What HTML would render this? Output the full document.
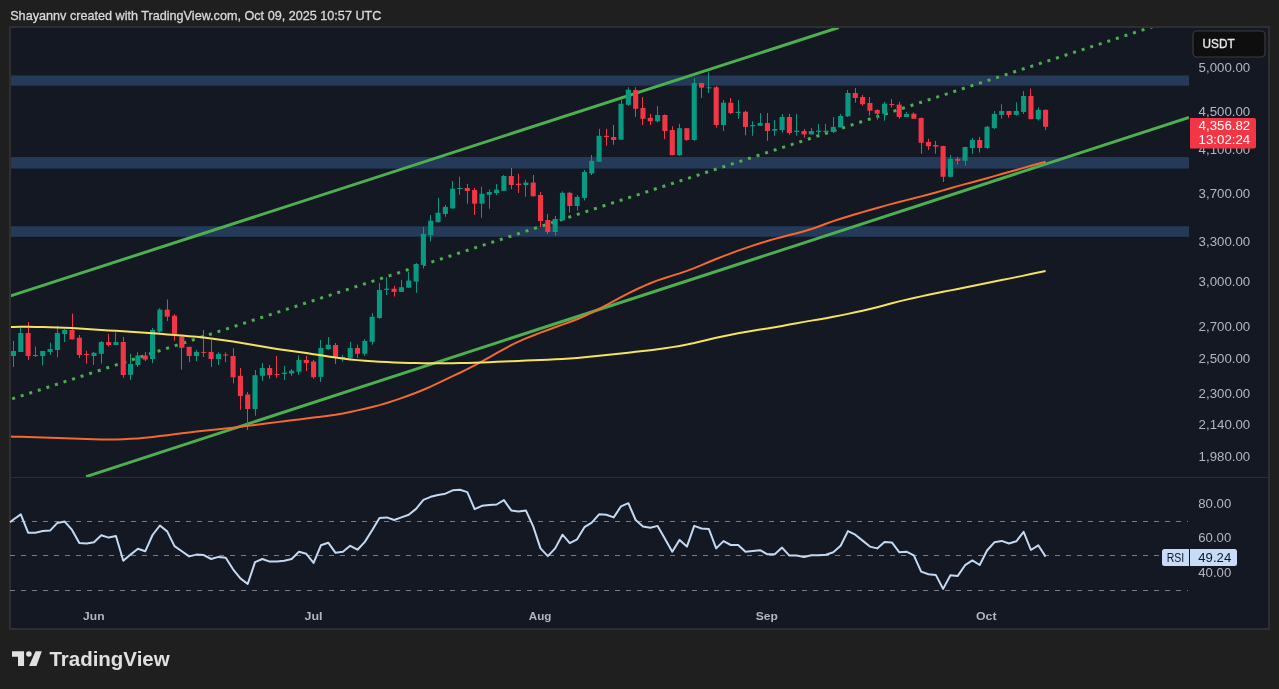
<!DOCTYPE html>
<html><head><meta charset="utf-8"><title>ETHUSDT chart</title>
<style>html,body{margin:0;padding:0;background:#1f1f1f;width:1279px;height:689px;overflow:hidden;font-family:"Liberation Sans", sans-serif;}svg{display:block;will-change:transform}</style>
</head><body><svg width="1279" height="689" viewBox="0 0 1279 689" font-family='"Liberation Sans", sans-serif'><rect x="0" y="0" width="1279" height="689" fill="#1f1f1f"/><rect x="9" y="26" width="1261" height="604" fill="#2f2f32"/><rect x="11" y="28" width="1257" height="600" fill="#141823"/><defs><clipPath id="cp"><rect x="11" y="28" width="1178" height="449"/></clipPath><clipPath id="cr"><rect x="11" y="478" width="1178" height="120"/></clipPath></defs><rect x="11" y="75.4" width="1178" height="10.3" fill="#253959"/><rect x="11" y="157" width="1178" height="11.6" fill="#253959"/><rect x="11" y="226.2" width="1178" height="10.6" fill="#253959"/><g clip-path="url(#cp)"><line x1="10" y1="296.1" x2="838.7" y2="27.5" stroke="#4caf50" stroke-width="3"/><line x1="86.1" y1="476.6" x2="1189" y2="117.4" stroke="#4caf50" stroke-width="3"/><line x1="5" y1="401.21" x2="1160" y2="24.33" stroke="#4caf50" stroke-width="3" stroke-dasharray="3 6" stroke-dashoffset="1.45"/><rect x="13" y="341" width="1" height="26" fill="#089981"/><rect x="10.92" y="351" width="5.1" height="5" fill="#089981"/><rect x="20" y="328" width="1" height="24" fill="#089981"/><rect x="18.24" y="333" width="5.1" height="19" fill="#089981"/><rect x="28" y="322" width="1" height="38" fill="#f23645"/><rect x="25.56" y="333" width="5.1" height="23" fill="#f23645"/><rect x="35" y="346.6" width="1" height="10.4" fill="#089981"/><rect x="32.88" y="355" width="5.1" height="1" fill="#089981"/><rect x="42" y="351" width="1" height="14.5" fill="#089981"/><rect x="40.2" y="351" width="5.1" height="5" fill="#089981"/><rect x="50" y="342.8" width="1" height="12.2" fill="#089981"/><rect x="47.52" y="349" width="5.1" height="3" fill="#089981"/><rect x="57" y="325.8" width="1" height="31.7" fill="#089981"/><rect x="54.84" y="333" width="5.1" height="17" fill="#089981"/><rect x="64" y="329" width="1" height="13" fill="#089981"/><rect x="62.16" y="330" width="5.1" height="4" fill="#089981"/><rect x="72" y="313.6" width="1" height="25.8" fill="#f23645"/><rect x="69.48" y="330" width="5.1" height="9.4" fill="#f23645"/><rect x="79" y="335" width="1" height="23" fill="#f23645"/><rect x="76.8" y="337.7" width="5.1" height="17.3" fill="#f23645"/><rect x="86" y="350.8" width="1" height="12.8" fill="#f23645"/><rect x="84.12" y="354" width="5.1" height="1" fill="#f23645"/><rect x="93" y="352" width="1" height="13" fill="#089981"/><rect x="91.44" y="352.8" width="5.1" height="3.2" fill="#089981"/><rect x="101" y="341" width="1" height="22.6" fill="#089981"/><rect x="98.76" y="342" width="5.1" height="11.8" fill="#089981"/><rect x="108" y="334" width="1" height="12.6" fill="#f23645"/><rect x="106.08" y="342" width="5.1" height="3" fill="#f23645"/><rect x="115" y="332.5" width="1" height="12.5" fill="#089981"/><rect x="113.4" y="342" width="5.1" height="3" fill="#089981"/><rect x="123" y="337" width="1" height="40.7" fill="#f23645"/><rect x="120.72" y="342" width="5.1" height="33" fill="#f23645"/><rect x="130" y="353.9" width="1" height="26.1" fill="#089981"/><rect x="128.04" y="364" width="5.1" height="10.8" fill="#089981"/><rect x="137" y="352.3" width="1" height="14.7" fill="#089981"/><rect x="135.36" y="355.5" width="5.1" height="9.5" fill="#089981"/><rect x="145" y="351.9" width="1" height="9.1" fill="#f23645"/><rect x="142.68" y="355.5" width="5.1" height="4.1" fill="#f23645"/><rect x="152" y="327.9" width="1" height="35.1" fill="#089981"/><rect x="150" y="330" width="5.1" height="29" fill="#089981"/><rect x="159" y="308.2" width="1" height="24.4" fill="#089981"/><rect x="157.32" y="309.6" width="5.1" height="22" fill="#089981"/><rect x="167" y="299.5" width="1" height="21.5" fill="#f23645"/><rect x="164.64" y="309.6" width="5.1" height="7.1" fill="#f23645"/><rect x="174" y="314.3" width="1" height="26.4" fill="#f23645"/><rect x="171.96" y="315.7" width="5.1" height="19.9" fill="#f23645"/><rect x="181" y="335.6" width="1" height="34.2" fill="#f23645"/><rect x="179.28" y="336.6" width="5.1" height="11.2" fill="#f23645"/><rect x="189" y="346.8" width="1" height="15.2" fill="#f23645"/><rect x="186.6" y="346.8" width="5.1" height="9.2" fill="#f23645"/><rect x="196" y="349.8" width="1" height="11.2" fill="#089981"/><rect x="193.92" y="351.9" width="5.1" height="4.1" fill="#089981"/><rect x="203" y="330" width="1" height="27" fill="#f23645"/><rect x="201.24" y="351.9" width="5.1" height="1" fill="#f23645"/><rect x="211" y="340" width="1" height="27" fill="#f23645"/><rect x="208.56" y="351.9" width="5.1" height="7.1" fill="#f23645"/><rect x="218" y="352.3" width="1" height="12.7" fill="#089981"/><rect x="215.88" y="353.9" width="5.1" height="5.1" fill="#089981"/><rect x="225" y="352.3" width="1" height="9.7" fill="#f23645"/><rect x="223.2" y="354.5" width="5.1" height="1" fill="#f23645"/><rect x="233" y="348.2" width="1" height="35.2" fill="#f23645"/><rect x="230.52" y="356" width="5.1" height="21.3" fill="#f23645"/><rect x="240" y="368" width="1" height="41.8" fill="#f23645"/><rect x="237.84" y="375.8" width="5.1" height="20.2" fill="#f23645"/><rect x="247" y="392" width="1" height="38" fill="#f23645"/><rect x="245.16" y="394.5" width="5.1" height="14.5" fill="#f23645"/><rect x="255" y="370" width="1" height="45.8" fill="#089981"/><rect x="252.48" y="375.2" width="5.1" height="33.8" fill="#089981"/><rect x="262" y="363" width="1" height="17.8" fill="#089981"/><rect x="259.8" y="368" width="5.1" height="7.8" fill="#089981"/><rect x="269" y="365" width="1" height="13.8" fill="#f23645"/><rect x="267.12" y="368" width="5.1" height="7.2" fill="#f23645"/><rect x="276" y="355.9" width="1" height="21.9" fill="#f23645"/><rect x="274.44" y="374" width="5.1" height="1" fill="#f23645"/><rect x="284" y="366" width="1" height="13.8" fill="#089981"/><rect x="281.76" y="372.7" width="5.1" height="1.3" fill="#089981"/><rect x="291" y="369" width="1" height="6.8" fill="#089981"/><rect x="289.08" y="370.7" width="5.1" height="2.8" fill="#089981"/><rect x="298" y="355.3" width="1" height="19.5" fill="#089981"/><rect x="296.4" y="360" width="5.1" height="11.7" fill="#089981"/><rect x="306" y="355.9" width="1" height="15.1" fill="#f23645"/><rect x="303.72" y="360" width="5.1" height="3" fill="#f23645"/><rect x="313" y="360" width="1" height="18.8" fill="#f23645"/><rect x="311.04" y="361.5" width="5.1" height="15.7" fill="#f23645"/><rect x="320" y="340" width="1" height="41.9" fill="#089981"/><rect x="318.36" y="348" width="5.1" height="28.8" fill="#089981"/><rect x="328" y="337" width="1" height="12.8" fill="#089981"/><rect x="325.68" y="344.7" width="5.1" height="4.5" fill="#089981"/><rect x="335" y="343" width="1" height="21" fill="#f23645"/><rect x="333" y="345" width="5.1" height="11.9" fill="#f23645"/><rect x="342" y="354.8" width="1" height="6.7" fill="#089981"/><rect x="340.32" y="356.9" width="5.1" height="2.4" fill="#089981"/><rect x="350" y="342" width="1" height="16.9" fill="#089981"/><rect x="347.64" y="348" width="5.1" height="9.9" fill="#089981"/><rect x="357" y="344.7" width="1" height="13.2" fill="#f23645"/><rect x="354.96" y="348" width="5.1" height="5.8" fill="#f23645"/><rect x="364" y="339.2" width="1" height="16.7" fill="#089981"/><rect x="362.28" y="341" width="5.1" height="12.8" fill="#089981"/><rect x="372" y="313" width="1" height="31.7" fill="#089981"/><rect x="369.6" y="316.8" width="5.1" height="25.1" fill="#089981"/><rect x="379" y="283" width="1" height="35.9" fill="#089981"/><rect x="376.92" y="290" width="5.1" height="28" fill="#089981"/><rect x="386" y="277.2" width="1" height="17.8" fill="#089981"/><rect x="384.24" y="288.7" width="5.1" height="1.3" fill="#089981"/><rect x="394" y="285.8" width="1" height="10.8" fill="#f23645"/><rect x="391.56" y="288.7" width="5.1" height="3.2" fill="#f23645"/><rect x="401" y="280" width="1" height="11.9" fill="#089981"/><rect x="398.88" y="287.2" width="5.1" height="4.7" fill="#089981"/><rect x="408" y="272" width="1" height="15.7" fill="#089981"/><rect x="406.2" y="280.6" width="5.1" height="7.1" fill="#089981"/><rect x="416" y="263" width="1" height="29.8" fill="#089981"/><rect x="413.52" y="264" width="5.1" height="17.5" fill="#089981"/><rect x="423" y="226.9" width="1" height="41.5" fill="#089981"/><rect x="420.84" y="233.9" width="5.1" height="31.1" fill="#089981"/><rect x="430" y="215" width="1" height="26.4" fill="#089981"/><rect x="428.16" y="220.7" width="5.1" height="14.5" fill="#089981"/><rect x="438" y="198" width="1" height="24.5" fill="#089981"/><rect x="435.48" y="212.7" width="5.1" height="9.5" fill="#089981"/><rect x="445" y="205" width="1" height="11.9" fill="#089981"/><rect x="442.8" y="206.9" width="5.1" height="7.1" fill="#089981"/><rect x="452" y="181" width="1" height="27.8" fill="#089981"/><rect x="450.12" y="188.6" width="5.1" height="19.8" fill="#089981"/><rect x="459" y="176.7" width="1" height="18.1" fill="#089981"/><rect x="457.44" y="188" width="5.1" height="1" fill="#089981"/><rect x="467" y="183.9" width="1" height="19.8" fill="#f23645"/><rect x="464.76" y="188" width="5.1" height="3" fill="#f23645"/><rect x="474" y="188" width="1" height="27" fill="#f23645"/><rect x="472.08" y="190" width="5.1" height="13.7" fill="#f23645"/><rect x="481" y="186.7" width="1" height="31.1" fill="#089981"/><rect x="479.4" y="193.7" width="5.1" height="10" fill="#089981"/><rect x="489" y="189.5" width="1" height="19.3" fill="#089981"/><rect x="486.72" y="192" width="5.1" height="2.8" fill="#089981"/><rect x="496" y="184" width="1" height="11" fill="#089981"/><rect x="494.04" y="189.6" width="5.1" height="3.4" fill="#089981"/><rect x="503" y="175" width="1" height="15.8" fill="#089981"/><rect x="501.36" y="176" width="5.1" height="14.8" fill="#089981"/><rect x="511" y="168" width="1" height="21.2" fill="#f23645"/><rect x="508.68" y="176" width="5.1" height="9" fill="#f23645"/><rect x="518" y="173.6" width="1" height="19.4" fill="#f23645"/><rect x="516" y="183.6" width="5.1" height="1.4" fill="#f23645"/><rect x="525" y="179.8" width="1" height="17" fill="#089981"/><rect x="523.32" y="182.6" width="5.1" height="2.4" fill="#089981"/><rect x="533" y="175" width="1" height="21.8" fill="#f23645"/><rect x="530.64" y="182.6" width="5.1" height="13.6" fill="#f23645"/><rect x="540" y="192" width="1" height="35" fill="#f23645"/><rect x="537.96" y="195" width="5.1" height="26" fill="#f23645"/><rect x="547" y="214" width="1" height="20" fill="#f23645"/><rect x="545.28" y="220" width="5.1" height="12" fill="#f23645"/><rect x="555" y="216" width="1" height="19.8" fill="#089981"/><rect x="552.6" y="218.9" width="5.1" height="13.1" fill="#089981"/><rect x="562" y="191.3" width="1" height="29.5" fill="#089981"/><rect x="559.92" y="192.8" width="5.1" height="27.5" fill="#089981"/><rect x="569" y="191.8" width="1" height="20.8" fill="#f23645"/><rect x="567.24" y="192.8" width="5.1" height="13.2" fill="#f23645"/><rect x="577" y="194.9" width="1" height="15.7" fill="#089981"/><rect x="574.56" y="196.9" width="5.1" height="9.1" fill="#089981"/><rect x="584" y="170" width="1" height="30.5" fill="#089981"/><rect x="581.88" y="172" width="5.1" height="25.9" fill="#089981"/><rect x="591" y="155" width="1" height="20" fill="#089981"/><rect x="589.2" y="160.8" width="5.1" height="12.7" fill="#089981"/><rect x="599" y="128.8" width="1" height="33" fill="#089981"/><rect x="596.52" y="135.8" width="5.1" height="26" fill="#089981"/><rect x="606" y="128.8" width="1" height="17" fill="#f23645"/><rect x="603.84" y="135.8" width="5.1" height="1.2" fill="#f23645"/><rect x="613" y="125" width="1" height="19.8" fill="#f23645"/><rect x="611.16" y="137" width="5.1" height="3" fill="#f23645"/><rect x="621" y="99.5" width="1" height="40.2" fill="#089981"/><rect x="618.48" y="103.7" width="5.1" height="36" fill="#089981"/><rect x="628" y="87.3" width="1" height="18.7" fill="#089981"/><rect x="625.8" y="89.7" width="5.1" height="15.1" fill="#089981"/><rect x="635" y="87.3" width="1" height="29.6" fill="#f23645"/><rect x="633.12" y="90" width="5.1" height="18.8" fill="#f23645"/><rect x="642" y="97" width="1" height="28" fill="#f23645"/><rect x="640.44" y="108" width="5.1" height="10.8" fill="#f23645"/><rect x="650" y="114" width="1" height="11" fill="#f23645"/><rect x="647.76" y="117.8" width="5.1" height="3.4" fill="#f23645"/><rect x="657" y="106" width="1" height="16.5" fill="#089981"/><rect x="655.08" y="115" width="5.1" height="6.2" fill="#089981"/><rect x="664" y="114.4" width="1" height="24.6" fill="#f23645"/><rect x="662.4" y="115" width="5.1" height="16" fill="#f23645"/><rect x="672" y="126.3" width="1" height="28.9" fill="#f23645"/><rect x="669.72" y="130" width="5.1" height="25.2" fill="#f23645"/><rect x="679" y="123.9" width="1" height="32.1" fill="#089981"/><rect x="677.04" y="128.2" width="5.1" height="27" fill="#089981"/><rect x="686" y="128.2" width="1" height="12.6" fill="#f23645"/><rect x="684.36" y="128.2" width="5.1" height="11.8" fill="#f23645"/><rect x="694" y="78.2" width="1" height="62.6" fill="#089981"/><rect x="691.68" y="83" width="5.1" height="57" fill="#089981"/><rect x="701" y="83" width="1" height="15" fill="#f23645"/><rect x="699" y="83" width="5.1" height="4.6" fill="#f23645"/><rect x="708" y="72.5" width="1" height="20.5" fill="#089981"/><rect x="706.32" y="87.3" width="5.1" height="1" fill="#089981"/><rect x="716" y="86" width="1" height="41.6" fill="#f23645"/><rect x="713.64" y="87.3" width="5.1" height="37.7" fill="#f23645"/><rect x="723" y="100" width="1" height="31" fill="#089981"/><rect x="720.96" y="102.7" width="5.1" height="22.3" fill="#089981"/><rect x="730" y="98" width="1" height="16" fill="#f23645"/><rect x="728.28" y="102.7" width="5.1" height="10.3" fill="#f23645"/><rect x="738" y="100" width="1" height="18.8" fill="#089981"/><rect x="735.6" y="111.8" width="5.1" height="1.2" fill="#089981"/><rect x="745" y="110.7" width="1" height="24.5" fill="#f23645"/><rect x="742.92" y="111.8" width="5.1" height="15.1" fill="#f23645"/><rect x="752" y="121.2" width="1" height="14.6" fill="#089981"/><rect x="750.24" y="125" width="5.1" height="1.3" fill="#089981"/><rect x="760" y="113" width="1" height="12.8" fill="#089981"/><rect x="757.56" y="123" width="5.1" height="2.8" fill="#089981"/><rect x="767" y="113" width="1" height="27.8" fill="#f23645"/><rect x="764.88" y="123" width="5.1" height="8" fill="#f23645"/><rect x="774" y="120" width="1" height="15.8" fill="#089981"/><rect x="772.2" y="129" width="5.1" height="1.7" fill="#089981"/><rect x="782" y="114" width="1" height="18.5" fill="#089981"/><rect x="779.52" y="117" width="5.1" height="13" fill="#089981"/><rect x="789" y="114" width="1" height="20.8" fill="#f23645"/><rect x="786.84" y="117" width="5.1" height="16" fill="#f23645"/><rect x="796" y="114" width="1" height="21.8" fill="#089981"/><rect x="794.16" y="130.7" width="5.1" height="1.3" fill="#089981"/><rect x="804" y="129" width="1" height="8.6" fill="#f23645"/><rect x="801.48" y="131" width="5.1" height="3.4" fill="#f23645"/><rect x="811" y="128" width="1" height="6.4" fill="#089981"/><rect x="808.8" y="131" width="5.1" height="3.4" fill="#089981"/><rect x="818" y="123.9" width="1" height="10.9" fill="#089981"/><rect x="816.12" y="130.7" width="5.1" height="1.3" fill="#089981"/><rect x="825" y="123.9" width="1" height="9.1" fill="#089981"/><rect x="823.44" y="130.7" width="5.1" height="1.3" fill="#089981"/><rect x="833" y="117" width="1" height="16" fill="#089981"/><rect x="830.76" y="126.9" width="5.1" height="5.1" fill="#089981"/><rect x="840" y="114" width="1" height="13.6" fill="#089981"/><rect x="838.08" y="116" width="5.1" height="11.3" fill="#089981"/><rect x="847" y="90" width="1" height="27" fill="#089981"/><rect x="845.4" y="93" width="5.1" height="23.3" fill="#089981"/><rect x="855" y="88" width="1" height="14.7" fill="#f23645"/><rect x="852.72" y="93" width="5.1" height="5" fill="#f23645"/><rect x="862" y="94.8" width="1" height="10.8" fill="#f23645"/><rect x="860.04" y="97" width="5.1" height="7.2" fill="#f23645"/><rect x="869" y="97" width="1" height="18.6" fill="#f23645"/><rect x="867.36" y="103" width="5.1" height="7.7" fill="#f23645"/><rect x="877" y="109.3" width="1" height="10.4" fill="#f23645"/><rect x="874.68" y="110" width="5.1" height="3.7" fill="#f23645"/><rect x="884" y="101.8" width="1" height="18.9" fill="#089981"/><rect x="882" y="103.7" width="5.1" height="10" fill="#089981"/><rect x="891" y="99" width="1" height="8.5" fill="#f23645"/><rect x="889.32" y="104" width="5.1" height="1" fill="#f23645"/><rect x="899" y="101.8" width="1" height="17" fill="#f23645"/><rect x="896.64" y="104.6" width="5.1" height="12.4" fill="#f23645"/><rect x="906" y="112" width="1" height="5" fill="#089981"/><rect x="903.96" y="114" width="5.1" height="3" fill="#089981"/><rect x="913" y="112.5" width="1" height="6.3" fill="#f23645"/><rect x="911.28" y="113.7" width="5.1" height="5.1" fill="#f23645"/><rect x="921" y="117.4" width="1" height="36.4" fill="#f23645"/><rect x="918.6" y="118" width="5.1" height="24.8" fill="#f23645"/><rect x="928" y="138.7" width="1" height="11.3" fill="#f23645"/><rect x="925.92" y="141.9" width="5.1" height="4.3" fill="#f23645"/><rect x="935" y="141" width="1" height="12.8" fill="#f23645"/><rect x="933.24" y="145" width="5.1" height="1.6" fill="#f23645"/><rect x="943" y="145.7" width="1" height="36.3" fill="#f23645"/><rect x="940.56" y="146" width="5.1" height="30.8" fill="#f23645"/><rect x="950" y="155" width="1" height="21.8" fill="#089981"/><rect x="947.88" y="158.9" width="5.1" height="17.9" fill="#089981"/><rect x="957" y="157" width="1" height="7.5" fill="#f23645"/><rect x="955.2" y="158.9" width="5.1" height="1.9" fill="#f23645"/><rect x="965" y="146.6" width="1" height="18.9" fill="#089981"/><rect x="962.52" y="147" width="5.1" height="13.8" fill="#089981"/><rect x="972" y="138" width="1" height="15.8" fill="#089981"/><rect x="969.84" y="140" width="5.1" height="8" fill="#089981"/><rect x="979" y="136.8" width="1" height="15.8" fill="#f23645"/><rect x="977.16" y="140" width="5.1" height="8" fill="#f23645"/><rect x="987" y="125.8" width="1" height="23.1" fill="#089981"/><rect x="984.48" y="126.8" width="5.1" height="21.2" fill="#089981"/><rect x="994" y="111" width="1" height="18" fill="#089981"/><rect x="991.8" y="114" width="5.1" height="14.1" fill="#089981"/><rect x="1001" y="104.2" width="1" height="14.5" fill="#089981"/><rect x="999.12" y="111" width="5.1" height="3.9" fill="#089981"/><rect x="1008" y="111" width="1" height="6.7" fill="#f23645"/><rect x="1006.44" y="111" width="5.1" height="3.9" fill="#f23645"/><rect x="1016" y="102.3" width="1" height="13.5" fill="#089981"/><rect x="1013.76" y="111" width="5.1" height="3.9" fill="#089981"/><rect x="1023" y="91" width="1" height="23" fill="#089981"/><rect x="1021.08" y="96" width="5.1" height="16" fill="#089981"/><rect x="1030" y="88.5" width="1" height="30.7" fill="#f23645"/><rect x="1028.4" y="96" width="5.1" height="23.2" fill="#f23645"/><rect x="1038" y="107.4" width="1" height="13.2" fill="#089981"/><rect x="1035.72" y="109.8" width="5.1" height="9.4" fill="#089981"/><rect x="1045" y="109.8" width="1" height="20.2" fill="#f23645"/><rect x="1043.04" y="109.8" width="5.1" height="17" fill="#f23645"/><polyline points="10,436.51 13.47,436.67 20.79,436.86 28.11,437.09 35.43,437.32 42.75,437.56 50.07,437.8 57.39,438.05 64.71,438.31 72.03,438.56 79.35,438.82 86.67,439.05 93.99,439.24 101.31,439.38 108.63,439.45 115.95,439.41 123.27,439.22 130.59,438.87 137.91,438.38 145.23,437.76 152.55,436.99 159.87,436.11 167.19,435.17 174.51,434.25 181.83,433.33 189.15,432.45 196.47,431.6 203.79,430.82 211.11,430.07 218.43,429.32 225.75,428.52 233.07,427.66 240.39,426.76 247.71,425.84 255.03,424.91 262.35,423.98 269.67,423.05 276.99,422.13 284.31,421.21 291.63,420.3 298.95,419.39 306.27,418.48 313.59,417.57 320.91,416.67 328.23,415.73 335.55,414.67 342.87,413.42 350.19,411.96 357.51,410.36 364.83,408.71 372.15,406.99 379.47,405.1 386.79,402.96 394.11,400.62 401.43,398.13 408.75,395.52 416.07,392.76 423.39,389.77 430.71,386.56 438.03,383.15 445.35,379.65 452.67,376.18 459.99,372.73 467.31,369.19 474.63,365.42 481.95,361.43 489.27,357.27 496.59,353.11 503.91,349.04 511.23,345.18 518.55,341.61 525.87,338.39 533.19,335.46 540.51,332.68 547.83,329.95 555.15,327.25 562.47,324.63 569.79,322.03 577.11,319.26 584.43,316.16 591.75,312.69 599.07,308.96 606.39,305.08 613.71,301.13 621.03,297.19 628.35,293.37 635.67,289.73 642.99,286.33 650.31,283.21 657.63,280.42 664.95,277.95 672.27,275.64 679.59,273.35 686.91,270.87 694.23,268.13 701.55,265.14 708.87,262.04 716.19,258.99 723.51,256.09 730.83,253.31 738.15,250.64 745.47,248.07 752.79,245.62 760.11,243.26 767.43,241.01 774.75,238.88 782.07,236.93 789.39,235.09 796.71,233.29 804.03,231.33 811.35,229.08 818.67,226.47 825.99,223.74 833.31,221.1 840.63,218.7 847.95,216.44 855.27,214.25 862.59,212.11 869.91,210 877.23,207.92 884.55,205.89 891.87,203.9 899.19,201.99 906.51,200.12 913.83,198.27 921.15,196.4 928.47,194.47 935.79,192.44 943.11,190.34 950.43,188.23 957.75,186.16 965.07,184.14 972.39,182.16 979.71,180.18 987.03,178.17 994.35,176.14 1001.67,174.08 1008.99,172.02 1016.31,169.95 1023.63,167.87 1030.95,165.81 1038.27,163.79 1045.59,161.82" fill="none" stroke="#f26a2e" stroke-width="2" stroke-linejoin="round"/><polyline points="10,326.99 13.47,326.91 20.79,326.85 28.11,326.83 35.43,326.89 42.75,327.01 50.07,327.18 57.39,327.38 64.71,327.65 72.03,328.01 79.35,328.49 86.67,329.03 93.99,329.55 101.31,330.01 108.63,330.42 115.95,330.82 123.27,331.24 130.59,331.7 137.91,332.18 145.23,332.69 152.55,333.23 159.87,333.8 167.19,334.38 174.51,334.96 181.83,335.53 189.15,336.15 196.47,336.83 203.79,337.61 211.11,338.47 218.43,339.42 225.75,340.45 233.07,341.56 240.39,342.74 247.71,343.96 255.03,345.21 262.35,346.48 269.67,347.73 276.99,348.9 284.31,349.98 291.63,350.99 298.95,352.01 306.27,353.08 313.59,354.2 320.91,355.36 328.23,356.5 335.55,357.59 342.87,358.55 350.19,359.39 357.51,360.13 364.83,360.77 372.15,361.31 379.47,361.76 386.79,362.12 394.11,362.44 401.43,362.7 408.75,362.91 416.07,363.07 423.39,363.2 430.71,363.27 438.03,363.3 445.35,363.28 452.67,363.22 459.99,363.1 467.31,362.93 474.63,362.73 481.95,362.49 489.27,362.2 496.59,361.87 503.91,361.54 511.23,361.21 518.55,360.89 525.87,360.6 533.19,360.33 540.51,360.05 547.83,359.73 555.15,359.35 562.47,358.93 569.79,358.45 577.11,357.9 584.43,357.26 591.75,356.56 599.07,355.82 606.39,355.05 613.71,354.27 621.03,353.47 628.35,352.66 635.67,351.84 642.99,351.01 650.31,350.16 657.63,349.25 664.95,348.23 672.27,347.13 679.59,345.93 686.91,344.59 694.23,343.06 701.55,341.34 708.87,339.55 716.19,337.81 723.51,336.19 730.83,334.67 738.15,333.25 745.47,331.91 752.79,330.69 760.11,329.55 767.43,328.41 774.75,327.21 782.07,325.91 789.39,324.54 796.71,323.17 804.03,321.86 811.35,320.63 818.67,319.42 825.99,318.18 833.31,316.84 840.63,315.39 847.95,313.87 855.27,312.32 862.59,310.72 869.91,309.02 877.23,307.16 884.55,305.21 891.87,303.25 899.19,301.38 906.51,299.64 913.83,297.98 921.15,296.38 928.47,294.83 935.79,293.32 943.11,291.85 950.43,290.39 957.75,288.92 965.07,287.44 972.39,285.97 979.71,284.49 987.03,283.02 994.35,281.56 1001.67,280.09 1008.99,278.62 1016.31,277.12 1023.63,275.61 1030.95,274.09 1038.27,272.57 1045.59,271.04" fill="none" stroke="#f5e25e" stroke-width="2" stroke-linejoin="round"/></g><rect x="11" y="477" width="1257" height="1" fill="#2a2e39"/><line x1="10" y1="521.5" x2="1188" y2="521.5" stroke="#787b86" stroke-width="1" stroke-dasharray="5 6"/><line x1="10" y1="555.5" x2="1188" y2="555.5" stroke="#787b86" stroke-width="1" stroke-dasharray="5 6"/><line x1="10" y1="590.5" x2="1188" y2="590.5" stroke="#787b86" stroke-width="1" stroke-dasharray="5 6"/><polyline points="10,522.2 13.47,519.5 20.79,514.4 28.11,532.7 35.43,532.7 42.75,531.1 50.07,530.6 57.39,522.9 64.71,521.6 72.03,529.9 79.35,543 86.67,543.5 93.99,542.2 101.31,535.3 108.63,537.6 115.95,536 123.27,560.8 130.59,554.6 137.91,548.7 145.23,551.3 152.55,535 159.87,525.5 167.19,531.4 174.51,546.1 181.83,551.3 189.15,556.4 196.47,554.6 203.79,555.1 211.11,559 218.43,556.9 225.75,557.7 233.07,569.3 240.39,578.4 247.71,584 255.03,562.1 262.35,559 269.67,561.6 276.99,561.6 284.31,560.8 291.63,559 298.95,551.8 306.27,553.8 313.59,562.9 320.91,545.3 328.23,542.7 335.55,552.8 342.87,551.7 350.19,545.8 357.51,549.7 364.83,541.9 372.15,530.3 379.47,517.9 386.79,517.4 394.11,520 401.43,517.4 408.75,514.8 416.07,508.9 423.39,499.9 430.71,496.8 438.03,495 445.35,493.7 452.67,490.3 459.99,489.8 467.31,492.1 474.63,509.2 481.95,505.8 489.27,505 496.59,504.5 503.91,500.1 511.23,510.4 518.55,511.5 525.87,510.4 533.19,526.4 540.51,548.4 547.83,556.1 555.15,548.4 562.47,534.7 569.79,543.2 577.11,539.3 584.43,527.2 591.75,522.6 599.07,514.3 606.39,514.8 613.71,517.4 621.03,506.3 628.35,503.2 635.67,520 642.99,526.4 650.31,527.7 657.63,525.9 664.95,538.8 672.27,551.7 679.59,539.9 686.91,546.6 694.23,525.9 701.55,528.5 708.87,529 716.19,548.4 723.51,541.1 730.83,545 738.15,545 745.47,551.7 752.79,551 760.11,550.2 767.43,554.3 774.75,554.3 782.07,547.6 789.39,555.6 796.71,555.6 804.03,556.9 811.35,555.3 818.67,555.3 825.99,554.8 833.31,552.2 840.63,545.8 847.95,531.1 855.27,534.7 862.59,540.6 869.91,546.6 877.23,548.4 884.55,541.9 891.87,542.4 899.19,552.2 906.51,551.7 913.83,555.3 921.15,571.6 928.47,574.2 935.79,574.9 943.11,588.9 950.43,575.2 957.75,575.9 965.07,565.2 972.39,560.4 979.71,565 987.03,550.5 994.35,542.3 1001.67,540.9 1008.99,543.5 1016.31,541.3 1023.63,531.9 1030.95,550 1038.27,545.3 1045.59,556.6" fill="none" stroke="#c3d8f2" stroke-width="2" stroke-linejoin="round"/><text x="1198.6" y="72" fill="#b2b5be" font-size="12.3" textLength="51.6" lengthAdjust="spacingAndGlyphs">5,000.00</text><text x="1198.6" y="115.8" fill="#b2b5be" font-size="12.3" textLength="51.6" lengthAdjust="spacingAndGlyphs">4,500.00</text><text x="1198.6" y="154.4" fill="#b2b5be" font-size="12.3" textLength="51.6" lengthAdjust="spacingAndGlyphs">4,100.00</text><text x="1198.6" y="198" fill="#b2b5be" font-size="12.3" textLength="51.6" lengthAdjust="spacingAndGlyphs">3,700.00</text><text x="1198.6" y="246.2" fill="#b2b5be" font-size="12.3" textLength="51.6" lengthAdjust="spacingAndGlyphs">3,300.00</text><text x="1198.6" y="286" fill="#b2b5be" font-size="12.3" textLength="51.6" lengthAdjust="spacingAndGlyphs">3,000.00</text><text x="1198.6" y="331" fill="#b2b5be" font-size="12.3" textLength="51.6" lengthAdjust="spacingAndGlyphs">2,700.00</text><text x="1198.6" y="363" fill="#b2b5be" font-size="12.3" textLength="51.6" lengthAdjust="spacingAndGlyphs">2,500.00</text><text x="1198.6" y="398.1" fill="#b2b5be" font-size="12.3" textLength="51.6" lengthAdjust="spacingAndGlyphs">2,300.00</text><text x="1198.6" y="428.5" fill="#b2b5be" font-size="12.3" textLength="51.6" lengthAdjust="spacingAndGlyphs">2,140.00</text><text x="1198.6" y="461.4" fill="#b2b5be" font-size="12.3" textLength="51.6" lengthAdjust="spacingAndGlyphs">1,980.00</text><text x="1198.3" y="508.3" fill="#b2b5be" font-size="12.3" textLength="32.9" lengthAdjust="spacingAndGlyphs">80.00</text><text x="1198.3" y="542.2" fill="#b2b5be" font-size="12.3" textLength="32.9" lengthAdjust="spacingAndGlyphs">60.00</text><text x="1198.3" y="577" fill="#b2b5be" font-size="12.3" textLength="32.9" lengthAdjust="spacingAndGlyphs">40.00</text><rect x="1193" y="31" width="72" height="26" rx="4" fill="#0e0e0f" stroke="#3a3b3e" stroke-width="1.2"/><text x="1202.6" y="48" fill="#e8e8e8" font-size="13" stroke="#e8e8e8" stroke-width="0.35" textLength="32" lengthAdjust="spacingAndGlyphs">USDT</text><path d="M1190,118 H1254 a2,2 0 0 1 2,2 V146.6 a2,2 0 0 1 -2,2 H1190 Z" fill="#f23645"/><text x="1198.6" y="130" fill="#ffffff" font-size="12.3" textLength="51.6" lengthAdjust="spacingAndGlyphs">4,356.82</text><text x="1198.6" y="143.6" fill="#ffffff" font-size="12.3" textLength="51.6" lengthAdjust="spacingAndGlyphs">13:02:24</text><rect x="1162" y="549" width="75" height="17" rx="2.5" fill="#c6dcf7"/><rect x="1189" y="549" width="1" height="17" fill="#131722"/><text x="1166.7" y="561.5" fill="#131722" font-size="12.3" textLength="17.6" lengthAdjust="spacingAndGlyphs">RSI</text><text x="1198.3" y="561.5" fill="#131722" font-size="12.3" textLength="32.9" lengthAdjust="spacingAndGlyphs">49.24</text><text x="83.1" y="620" fill="#b2b5be" font-size="11.7" font-weight="bold" textLength="21.4" lengthAdjust="spacingAndGlyphs">Jun</text><text x="304.5" y="620" fill="#b2b5be" font-size="11.7" font-weight="bold" textLength="18" lengthAdjust="spacingAndGlyphs">Jul</text><text x="528.8" y="620" fill="#b2b5be" font-size="11.7" font-weight="bold" textLength="22.5" lengthAdjust="spacingAndGlyphs">Aug</text><text x="755.8" y="620" fill="#b2b5be" font-size="11.7" font-weight="bold" textLength="22.2" lengthAdjust="spacingAndGlyphs">Sep</text><text x="976" y="620" fill="#b2b5be" font-size="11.7" font-weight="bold" textLength="20.5" lengthAdjust="spacingAndGlyphs">Oct</text><text x="10.2" y="20" fill="#d9d9d9" stroke="#d9d9d9" stroke-width="0.3" font-size="12.7" textLength="371.2" lengthAdjust="spacingAndGlyphs">Shayannv created with TradingView.com, Oct 09, 2025 10:57 UTC</text><g fill="#e0e0e0"><path d="M12,651.2 H24.05 V666 H18 V656.8 H12 Z"/><circle cx="28.9" cy="654" r="2.8"/><path d="M35.5,651.2 H41.8 L36.5,666 H29.1 Z"/></g><text x="49.4" y="665.7" fill="#e0e0e0" font-size="20" font-weight="bold" textLength="120.3" lengthAdjust="spacingAndGlyphs">TradingView</text></svg></body></html>
